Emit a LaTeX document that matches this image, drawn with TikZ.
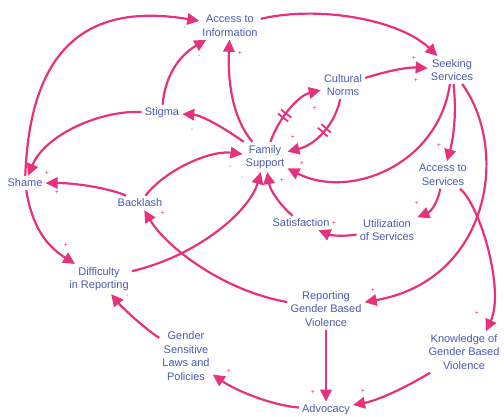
\documentclass[tikz,border=0pt]{standalone}
\usepackage{fontspec}
\setmainfont{Liberation Sans}
\usetikzlibrary{arrows.meta,decorations.markings}
\begin{document}
\begin{tikzpicture}[x=1pt,y=-1pt,
    factor/.style={text=r75g90b175,align=center,inner sep=3pt,font=\fontsize{11}{13.5}\selectfont},
    link/.style={draw=r230g50b125,line width=2.2pt,-{Triangle[length=12pt,width=11.5pt]}},
    sign/.style={text=r230g50b125,inner sep=0pt,font=\fontsize{7}{7}\selectfont},
    delay/.style={postaction={decorate,decoration={markings,mark=at position #1 with
      {\draw[-,r230g50b125,line width=1.8pt] (-2.5pt,-6.5pt) -- (-2.5pt,6.5pt) (2.5pt,-6.5pt) -- (2.5pt,6.5pt);}}}}]
  \useasboundingbox (0,0) rectangle (504,416);

  % Changing color 75 90 175
  \definecolor{r75g90b175}{RGB}{75,90,175}%
  % Changing color 230 50 125
  \definecolor{r230g50b125}{RGB}{230,50,125}%

  % Placing factors
  \node[factor] (accinfo) at (230,26) {Access to\\Information};
  \node[factor] (seeking) at (452,70) {Seeking\\Services};
  \node[factor] (cultural) at (343,85) {Cultural\\Norms};
  \node[factor] (stigma) at (162,113) {Stigma};
  \node[factor] (family) at (265,157) {Family\\Support};
  \node[factor] (shame) at (25,183) {Shame};
  \node[factor] (backlash) at (140,203) {Backlash};
  \node[factor] (accserv) at (443,175) {Access to\\Services};
  \node[factor] (satisfaction) at (301,223) {Satisfaction};
  \node[factor] (utilization) at (387,230) {Utilization\\of Services};
  \node[factor] (difficulty) at (99,279) {Difficulty\\in Reporting};
  \node[factor] (reporting) at (326,309) {Reporting\\Gender Based\\Violence};
  \node[factor] (knowledge) at (464,352) {Knowledge of\\Gender Based\\Violence};
  \node[factor] (laws) at (186,356) {Gender\\Sensitive\\Laws and\\Policies};
  \node[factor] (advocacy) at (326,410) {Advocacy};

  % Drawing link Shame AccessInfo
  \draw[link] (shame) .. controls (30,50) and (85,2) .. (accinfo);
  \node[sign] (sg1) at (185,28) {-};

  % Drawing link Stigma AccessInfo
  \draw[link] (stigma) .. controls (165,75) and (180,55) .. (accinfo);
  \node[sign] (sg2) at (199,56) {-};

  % Drawing link Family AccessInfo
  \draw[link] (family) .. controls (230,115) and (228,75) .. (accinfo);
  \node[sign] (sg3) at (240,53) {+};

  % Drawing link AccessInfo Seeking
  \draw[link] (accinfo) .. controls (320,5) and (400,20) .. (seeking);
  \node[sign] (sg4) at (414,58) {+};

  % Drawing link Cultural Seeking
  \draw[link] (cultural) .. controls (390,70) and (410,67) .. (seeking);
  \node[sign] (sg5) at (416,80) {+};

  % Drawing link Family Cultural (delayed)
  \draw[link,delay=0.4] (family) .. controls (280,115) and (300,95) .. (cultural);
  \node[sign] (sg6) at (315,108) {+};

  % Drawing link Cultural Family (delayed)
  \draw[link,delay=0.45] (cultural) .. controls (335,125) and (315,145) .. (family);
  \node[sign] (sg7) at (293,137) {+};

  % Drawing link Seeking Family
  \draw[link] (seeking) .. controls (438,165) and (350,200) .. (family);
  \node[sign] (sg8) at (302,163) {+};

  % Drawing link Seeking AccessServ
  \draw[link] (seeking) .. controls (457,115) and (453,140) .. (accserv);
  \node[sign] (sg9) at (439,145) {+};

  % Drawing link Seeking Reporting
  \draw[link] (seeking) .. controls (510,150) and (490,280) .. (reporting);
  \node[sign] (sg10) at (373,290) {+};

  % Drawing link AccessServ Knowledge
  \draw[link] (accserv) .. controls (480,205) and (505,290) .. ([xshift=22pt]knowledge.north);
  \node[sign] (sg11) at (477,313) {+};

  % Drawing link AccessServ Utilization
  \draw[link] (accserv) .. controls (437,205) and (430,212) .. (utilization);
  \node[sign] (sg12) at (417,203) {+};

  % Drawing link Utilization Satisfaction
  \draw[link] (utilization) .. controls (340,237) and (330,235) .. (satisfaction);
  \node[sign] (sg13) at (334,223) {+};

  % Drawing link Satisfaction Family
  \draw[link] (satisfaction) .. controls (280,205) and (270,190) .. (family);
  \node[sign] (sg14) at (282,180) {+};

  % Drawing link Family Stigma
  \draw[link] (family) .. controls (220,125) and (200,115) .. (stigma);
  \node[sign] (sg15) at (192,130) {-};

  % Drawing link Stigma Shame
  \draw[link] (stigma) .. controls (100,110) and (45,135) .. (shame);
  \node[sign] (sg16) at (47,173) {+};

  % Drawing link Backlash Shame
  \draw[link] (backlash) .. controls (115,190) and (80,183) .. (shame);
  \node[sign] (sg17) at (57,192) {+};

  % Drawing link Backlash Family
  \draw[link] (backlash) .. controls (165,170) and (210,150) .. (family);
  \node[sign] (sg18) at (230,167) {-};

  % Drawing link Shame Difficulty
  \draw[link] (shame) .. controls (32,225) and (45,245) .. (difficulty);
  \node[sign] (sg19) at (66,245) {+};

  % Drawing link Difficulty Family
  \draw[link] (difficulty) .. controls (200,255) and (250,210) .. (family);
  \node[sign] (sg20) at (242,178) {-};

  % Drawing link Reporting Backlash
  \draw[link] (reporting) .. controls (220,290) and (165,245) .. (backlash);
  \node[sign] (sg21) at (163,213) {+};

  % Drawing link Reporting Advocacy
  \draw[link] (reporting) -- (advocacy);
  \node[sign] (sg22) at (313,392) {+};

  % Drawing link Knowledge Advocacy
  \draw[link] (knowledge) .. controls (410,385) and (380,400) .. (advocacy);
  \node[sign] (sg23) at (363,391) {+};

  % Drawing link Advocacy Laws
  \draw[link] (advocacy) .. controls (270,405) and (235,390) .. (laws);
  \node[sign] (sg24) at (229,371) {+};

  % Drawing link Laws Difficulty
  \draw[link] (laws) .. controls (140,325) and (120,305) .. (difficulty);
  \node[sign] (sg25) at (127,296) {-};
\end{tikzpicture}
\end{document}
